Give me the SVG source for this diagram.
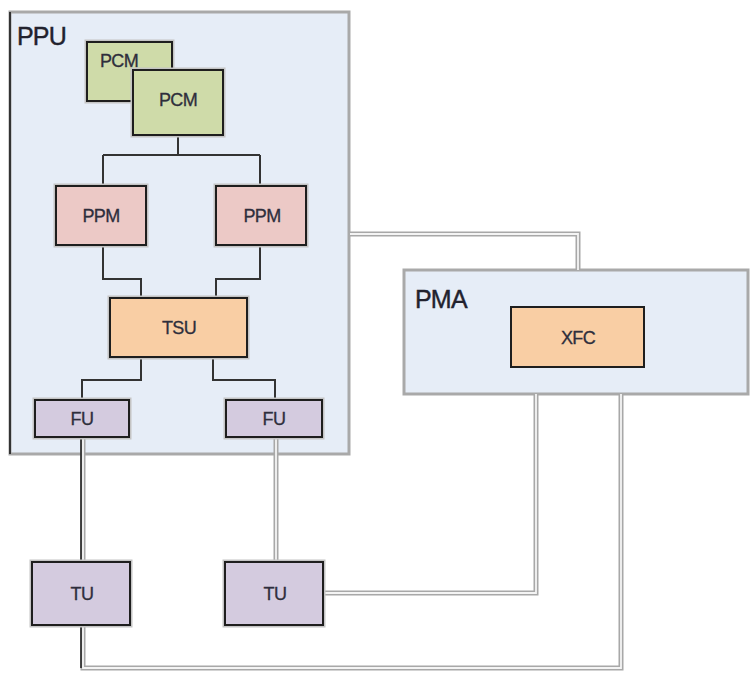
<svg xmlns="http://www.w3.org/2000/svg" width="751" height="673" viewBox="0 0 751 673">
<defs>
<style>
.halo{fill:none;stroke:#c4c4c4;stroke-width:5}
.box{stroke:#1e1e1e;stroke-width:2}
.green{fill:#cfdba9}
.pink{fill:#ecc9c6}
.orange{fill:#f9cea4}
.purple{fill:#d4cbdf}
.cont{fill:#e6edf7;stroke:#a9a9a9;stroke-width:3}
.lbl{font-family:"Liberation Sans",Arial,sans-serif;font-size:18px;fill:#2e2e3c;text-anchor:middle;letter-spacing:-0.6px;stroke:#2e2e3c;stroke-width:0.3}
.big{font-family:"Liberation Sans",Arial,sans-serif;font-size:25px;fill:#22222e;letter-spacing:-0.8px;stroke:#22222e;stroke-width:0.4}
.wire{fill:none;stroke:#333;stroke-width:2}
.pipeo{fill:none;stroke:#a8a8a8;stroke-width:5}
.pipei{fill:none;stroke:#f4f4f4;stroke-width:1.8}
.dark{fill:none;stroke:#222;stroke-width:1.6}
</style>
</defs>
<rect width="751" height="673" fill="#ffffff"/>

<g id="PPU">
<rect class="cont" x="10" y="12" width="339" height="442"/>
<line x1="10" y1="12" x2="10" y2="454" stroke="#333" stroke-width="2"/>
<text class="big" x="17" y="45">PPU</text>
</g>

<g id="PMA">
<rect class="cont" x="404" y="270" width="344" height="124"/>
<text class="big" x="415" y="308">PMA</text>
</g>

<g id="connectors">
<path class="wire" d="M178 135 V155 M103 155 H260 M103 155 V186 M260 155 V186"/>
<path class="wire" d="M103 245 V279 H141 V298 M260 245 V279 H216 V298"/>
<path class="wire" d="M141 357 V380 H82 V400 M213 357 V380 H275 V400"/>
<path class="pipeo" d="M350 234 H578 V270"/>
<path class="pipei" d="M350 234 H578 V270"/>
<path class="pipeo" d="M83 437 V562 M276 437 V562"/>
<path class="pipei" d="M83 437 V562 M276 437 V562"/>
<path class="dark" d="M81 437 V562"/>
<path class="pipeo" d="M323 593 H536 V394"/>
<path class="pipei" d="M323 593 H536 V394"/>
<path class="pipeo" d="M83 625 V668 H621 V394"/>
<path class="pipei" d="M83 625 V668 H621 V394"/>
<path class="dark" d="M81 625 V668"/>
</g>

<g id="PCM1">
<rect class="halo" x="87" y="42" width="85" height="59"/>
<rect class="box green" x="87" y="42" width="85" height="59"/>
<text class="lbl" x="119" y="67">PCM</text>
</g>
<g id="PCM2">
<rect class="halo" x="133" y="70" width="90" height="65"/>
<rect class="box green" x="133" y="70" width="90" height="65"/>
<text class="lbl" x="178" y="106">PCM</text>
</g>
<g id="PPM1">
<rect class="halo" x="56" y="186" width="90" height="59"/>
<rect class="box pink" x="56" y="186" width="90" height="59"/>
<text class="lbl" x="101" y="222">PPM</text>
</g>
<g id="PPM2">
<rect class="halo" x="216" y="186" width="90" height="59"/>
<rect class="box pink" x="216" y="186" width="90" height="59"/>
<text class="lbl" x="262" y="222">PPM</text>
</g>
<g id="TSU">
<rect class="halo" x="110" y="298" width="137" height="59"/>
<rect class="box orange" x="110" y="298" width="137" height="59"/>
<text class="lbl" x="179" y="334">TSU</text>
</g>
<g id="FU1">
<rect class="halo" x="35" y="400" width="94" height="37"/>
<rect class="box purple" x="35" y="400" width="94" height="37"/>
<text class="lbl" x="82" y="425">FU</text>
</g>
<g id="FU2">
<rect class="halo" x="226" y="400" width="96" height="37"/>
<rect class="box purple" x="226" y="400" width="96" height="37"/>
<text class="lbl" x="274" y="425">FU</text>
</g>
<g id="XFC">
<rect class="box orange" x="511" y="307" width="133" height="60" stroke="#555" stroke-width="1.5"/>
<text class="lbl" x="578" y="344">XFC</text>
</g>
<g id="TU1">
<rect class="halo" x="32" y="562" width="98" height="63"/>
<rect class="box purple" x="32" y="562" width="98" height="63"/>
<text class="lbl" x="82" y="600">TU</text>
</g>
<g id="TU2">
<rect class="halo" x="225" y="562" width="98" height="63"/>
<rect class="box purple" x="225" y="562" width="98" height="63"/>
<text class="lbl" x="275" y="600">TU</text>
</g>
</svg>
